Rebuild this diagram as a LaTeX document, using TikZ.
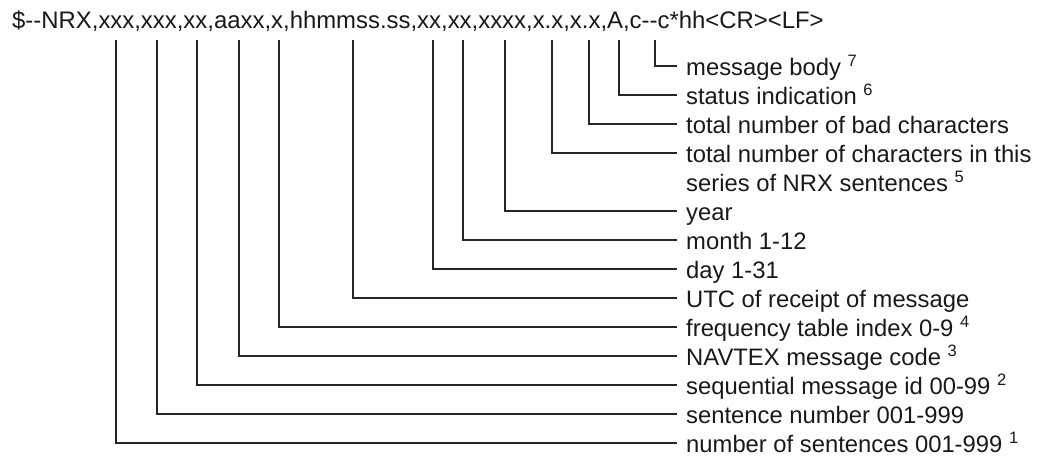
\documentclass[tikz,border=0pt]{standalone}
\usepackage{fontspec}
\setmainfont{Liberation Sans}
\newcommand{\fnum}[1]{\raisebox{9pt}{\fontsize{16.5}{16.5}\selectfont #1}}
\tikzset{
  lbl/.style={anchor=west, inner sep=0pt, text height=18pt, text depth=0pt,
              font=\fontsize{23.8}{27}\selectfont, text=black!90},
  conn/.style={draw=black!85, line width=1.1pt},
}
\begin{document}
\begin{tikzpicture}[x=1pt,y=-1pt]
\useasboundingbox (0,0) rectangle (1048,456);
\node[anchor=base west, inner sep=0pt, font=\fontsize{23.9}{28}\selectfont, text=black!90] (title) at (12,28)
  {\$-{}-NRX,xxx,xxx,xx,aaxx,x,hhmmss.ss,xx,xx,xxxx,x.x,x.x,A,c-{}-c*hh<CR><LF>};

\node[lbl] (l0)  at (686,66)  {message body \fnum{7}};
\node[lbl] (l1)  at (686,95)  {status indication \fnum{6}};
\node[lbl] (l2)  at (686,124) {total number of bad characters};
\node[lbl] (l3)  at (686,153) {total number of characters in this};
\node[lbl] (l3b) at (686,182) {series of NRX sentences \fnum{5}};
\node[lbl] (l5)  at (686,211) {year};
\node[lbl] (l6)  at (686,240) {month 1-12};
\node[lbl] (l7)  at (686,269) {day 1-31};
\node[lbl] (l8)  at (686,298) {UTC of receipt of message};
\node[lbl] (l9)  at (686,327) {frequency table index 0-9 \fnum{4}};
\node[lbl] (l10) at (686,356) {NAVTEX message code \fnum{3}};
\node[lbl] (l11) at (686,385) {sequential message id 00-99 \fnum{2}};
\node[lbl] (l12) at (686,414) {sentence number 001-999};
\node[lbl] (l13) at (686,443) {number of sentences 001-999 \fnum{1}};

\coordinate (t0)  at (655,40);
\coordinate (t1)  at (619,40);
\coordinate (t2)  at (589,40);
\coordinate (t3)  at (552,40);
\coordinate (t5)  at (505,40);
\coordinate (t6)  at (463,40);
\coordinate (t7)  at (433,40);
\coordinate (t8)  at (353,40);
\coordinate (t9)  at (279,40);
\coordinate (t10) at (239,40);
\coordinate (t11) at (197,40);
\coordinate (t12) at (157,40);
\coordinate (t13) at (116,40);

\foreach \i in {0,1,2,3,5,6,7,8,9,10,11,12,13}
  \draw[conn] (t\i) |- ([xshift=-9pt]l\i.west);
\end{tikzpicture}
\end{document}
